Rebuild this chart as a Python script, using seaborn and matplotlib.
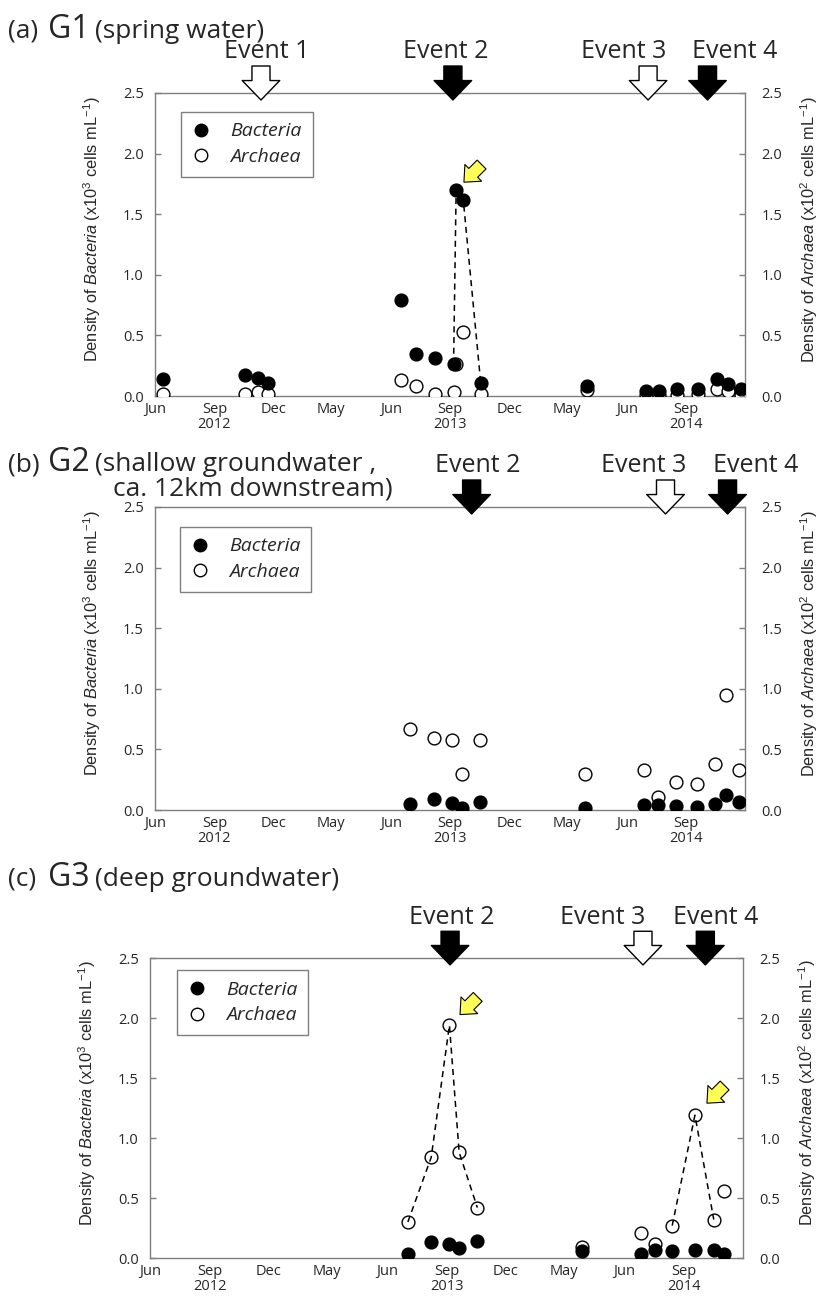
import pandas as pd
import matplotlib
matplotlib.use("Agg")
import matplotlib.pyplot as plt
import matplotlib.dates as mdates
from matplotlib.lines import Line2D
import seaborn as sns

sns.set_style("white")
plt.rcParams["font.family"] = ["Open Sans", "DejaVu Sans"]
plt.rcParams["mathtext.fontset"] = "custom"
plt.rcParams["mathtext.rm"] = "Liberation Sans"
plt.rcParams["mathtext.it"] = "Liberation Sans:italic"

# --- data ---
g1_dates = ["2012-06-14", "2012-10-18", "2012-11-08", "2012-11-23", "2013-06-17",
            "2013-07-10", "2013-08-08", "2013-09-06", "2013-09-10", "2013-09-21",
            "2013-10-18", "2014-04-01", "2014-07-01", "2014-07-21", "2014-08-17",
            "2014-09-20", "2014-10-19", "2014-11-05", "2014-11-25"]
g1_bacteria = [0.14, 0.17, 0.15, 0.11, 0.79, 0.35, 0.31, 0.26, 1.70, 1.62,
               0.11, 0.08, 0.04, 0.04, 0.06, 0.06, 0.14, 0.10, 0.06]
g1_archaea = [0.02, 0.02, 0.03, 0.02, 0.13, 0.08, 0.02, 0.03, 0.26, 0.53,
              0.02, 0.05, 0.01, 0.01, 0.01, 0.02, 0.055, 0.04, 0.01]

g2_dates = ["2013-07-01", "2013-08-07", "2013-09-04", "2013-09-19", "2013-10-17",
            "2014-03-28", "2014-06-28", "2014-07-19", "2014-08-16", "2014-09-18",
            "2014-10-16", "2014-11-02", "2014-11-22"]
g2_bacteria = [0.05, 0.09, 0.055, 0.02, 0.065, 0.02, 0.04, 0.04, 0.03, 0.025,
               0.05, 0.12, 0.065]
g2_archaea = [0.67, 0.59, 0.575, 0.30, 0.575, 0.295, 0.33, 0.105, 0.23, 0.215,
              0.38, 0.95, 0.33]

g3_dates = ["2013-07-03", "2013-08-08", "2013-09-05", "2013-09-20", "2013-10-18",
            "2014-03-28", "2014-06-27", "2014-07-18", "2014-08-14", "2014-09-18",
            "2014-10-17", "2014-11-01"]
g3_bacteria = [0.03, 0.13, 0.12, 0.08, 0.14, 0.055, 0.03, 0.065, 0.055, 0.07,
               0.07, 0.035]
g3_archaea = [0.30, 0.84, 1.94, 0.88, 0.42, 0.095, 0.21, 0.12, 0.27, 1.19,
              0.32, 0.56]

tick_dates = pd.date_range("2012-06-01", "2014-12-01", freq="3MS")
tick_labels = ["Jun", "Sep\n2012", "Dec", "May", "Jun", "Sep\n2013", "Dec",
               "May", "Jun", "Sep\n2014", ""]
y_ticks = [0.0, 0.5, 1.0, 1.5, 2.0, 2.5]

event_names = ["Event 1", "Event 2", "Event 3", "Event 4"]
event_filled = [False, True, False, True]
g1_events = ["2012-11-12", "2013-09-05", "2014-07-04", "2014-10-04"]
g2_events = [None, "2013-10-04", "2014-07-31", "2014-11-04"]
g3_events = [None, "2013-09-06", "2014-06-30", "2014-10-04"]

W, H = 822, 1296
fig = plt.figure(figsize=(W / 100, H / 100), dpi=100)
GRAY = "#7f7f7f"
TICK_FS = 10.5


def px_axes(left, top, right, bottom):
    return [left / W, 1 - bottom / H, (right - left) / W, (bottom - top) / H]


def draw_panel(rect, dates, bac, arc, events, text_dx, bac_dash, arc_dash,
               highlights, leg_anchor):
    ax = fig.add_axes(rect)
    d = pd.to_datetime(pd.Series(dates))
    bac = pd.Series(bac)
    arc = pd.Series(arc)

    sns.scatterplot(x=d, y=arc, ax=ax, s=85, color="white", edgecolor="black",
                    linewidth=1.0, zorder=3, legend=False)
    sns.scatterplot(x=d, y=bac, ax=ax, s=85, color="black", edgecolor="black",
                    linewidth=1.0, zorder=4, legend=False)
    for idx in bac_dash:
        sns.lineplot(x=d.iloc[idx], y=bac.iloc[idx], ax=ax, color="black",
                     lw=1.1, linestyle=(0, (4, 3)), estimator=None, sort=False,
                     zorder=5)
    for idx in arc_dash:
        sns.lineplot(x=d.iloc[idx], y=arc.iloc[idx], ax=ax, color="black",
                     lw=1.1, linestyle=(0, (4, 3)), estimator=None, sort=False,
                     zorder=5)

    ax.set_xlim(tick_dates[0], tick_dates[-1])
    ax.set_ylim(0, 2.5)
    ax.set_xticks(tick_dates)
    ax.set_xticklabels(tick_labels, linespacing=0.95)
    ax.set_yticks(y_ticks)
    ax.set_yticklabels([f"{v:.1f}" for v in y_ticks])
    ax.set_xlabel("")
    ax.set_ylabel(r"Density of $\mathit{Bacteria}$ (x10$^3$ cells mL$^{-1}$)",
                  fontsize=11.8, family="Liberation Sans")
    ax.yaxis.set_label_coords(-0.088, 0.55)
    ax.tick_params(direction="in", length=4, width=1, color=GRAY,
                   labelsize=TICK_FS, right=False, top=False)
    ax.tick_params(axis="x", pad=4.5)
    ax.tick_params(axis="y", pad=8)
    for sp in ax.spines.values():
        sp.set_color(GRAY)
        sp.set_linewidth(1)
        sp.set_visible(True)

    ax2 = ax.twinx()
    ax2.set_ylim(0, 2.5)
    ax2.set_yticks(y_ticks)
    ax2.set_yticklabels([f"{v:.1f}" for v in y_ticks])
    ax2.tick_params(axis="y", direction="in", length=4, width=1, color=GRAY,
                    labelsize=TICK_FS, pad=12)
    ax2.set_ylabel(r"Density of $\mathit{Archaea}$ (x10$^2$ cells mL$^{-1}$)",
                   fontsize=11.8, family="Liberation Sans")
    ax2.yaxis.set_label_coords(1.09, 0.55)
    for sp in ax2.spines.values():
        sp.set_visible(False)

    # event arrows on top of the frame
    for name, date, filled, dx in zip(event_names, events, event_filled, text_dx):
        if date is None:
            continue
        xn = mdates.date2num(pd.Timestamp(date))
        ax.annotate("", xy=(xn, 1 - 7 / 303), xycoords=("data", "axes fraction"),
                    xytext=(xn, 1 + 27 / 303), textcoords=("data", "axes fraction"),
                    arrowprops=dict(arrowstyle="simple,head_length=14,head_width=27,tail_width=13",
                                    mutation_scale=1, fc="black" if filled else "white",
                                    ec="black", lw=1, shrinkA=0, shrinkB=0),
                    annotation_clip=False, zorder=6)
        ax.annotate(name, xy=(xn, 1), xycoords=("data", "axes fraction"),
                    xytext=(dx * 0.72, 41 * 0.72), textcoords="offset points",
                    ha="center", va="center", fontsize=18, annotation_clip=False)

    # yellow pointers: (index, series, gap between point and arrow tip in px)
    for i, series, gap in highlights:
        vals = bac if series == "b" else arc
        xn = mdates.date2num(d.iloc[i])
        off = (gap + 25) / 1.414 * 0.72
        ax.annotate("", xy=(xn, vals.iloc[i]), xycoords="data",
                    xytext=(off, off), textcoords="offset points",
                    arrowprops=dict(arrowstyle="simple,head_length=9.5,head_width=17,tail_width=9",
                                    mutation_scale=1, fc="#ffff55", ec="black", lw=0.8,
                                    shrinkA=0, shrinkB=gap * 0.72),
                    zorder=6)

    handles = [Line2D([], [], ls="", marker="o", ms=9, mfc="black", mec="black", mew=1),
               Line2D([], [], ls="", marker="o", ms=9, mfc="white", mec="black", mew=1)]
    leg = ax.legend(handles, ["Bacteria", "Archaea"], loc="upper left",
                    bbox_to_anchor=leg_anchor, borderaxespad=0,
                    prop=dict(style="italic", size=14), frameon=True, fancybox=False,
                    framealpha=1, edgecolor=GRAY, borderpad=0.55, handlelength=1.0,
                    handletextpad=1.0, labelspacing=0.4)
    leg.get_frame().set_linewidth(1)
    return ax


def title(y, letter, site, rest):
    fig.text(8 / W, 1 - y / H, letter, fontsize=19, va="baseline")
    fig.text(48 / W, 1 - y / H, site, fontsize=23, va="baseline")
    fig.text(95 / W, 1 - y / H, rest, fontsize=19, va="baseline")


draw_panel(px_axes(155, 93, 745, 396), g1_dates, g1_bacteria, g1_archaea,
           g1_events, [6, -7, -24, 27], [[7, 8, 9, 10]], [],
           [(8, "b", 11)], (0.044, 0.938))
draw_panel(px_axes(155, 507, 745, 810), g2_dates, g2_bacteria, g2_archaea,
           g2_events, [0, 6, -22, 28], [], [],
           [], (0.042, 0.935))
draw_panel(px_axes(150, 958, 743, 1258), g3_dates, g3_bacteria, g3_archaea,
           g3_events, [0, 2, -40, 10], [], [[0, 1, 2, 3, 4], [8, 9, 10]],
           [(2, "a", 15), (9, "a", 17)], (0.045, 0.96))

title(38, "(a)", "G1", "(spring water)")
title(471, "(b)", "G2", "(shallow groundwater ,")
fig.text(113 / W, 1 - 496 / H, "ca. 12km downstream)", fontsize=19, va="baseline")
title(886, "(c)", "G3", "(deep groundwater)")

fig.savefig("out.png", dpi=100)
